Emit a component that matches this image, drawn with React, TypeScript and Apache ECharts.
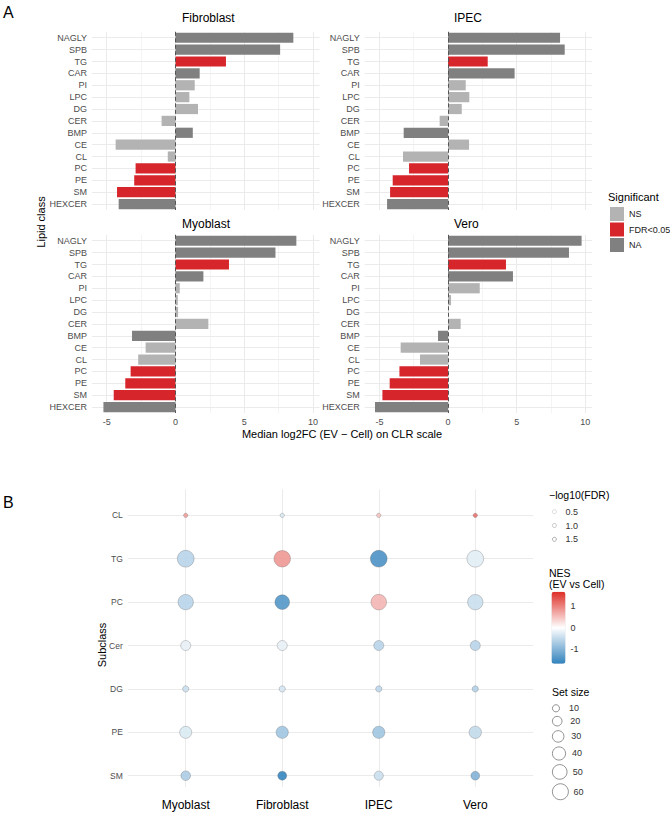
import { useEffect, useRef } from "react";
import * as echarts from "echarts";

// ---------- Panel A data ----------
const lipidClasses = ["NAGLY", "SPB", "TG", "CAR", "PI", "LPC", "DG", "CER", "BMP", "CE", "CL", "PC", "PE", "SM", "HEXCER"];
const classSignificance = ["NA", "NA", "FDR<0.05", "NA", "NS", "NS", "NS", "NS", "NA", "NS", "NS", "FDR<0.05", "FDR<0.05", "FDR<0.05", "NA"];
const fibroblastLog2FC = [8.57, 7.61, 3.67, 1.76, 1.4, 1.01, 1.64, -1.01, 1.26, -4.35, -0.56, -2.9, -3.0, -4.25, -4.13];
const ipecLog2FC = [8.16, 8.5, 2.89, 4.85, 1.29, 1.55, 1.0, -0.61, -3.23, 1.53, -3.28, -2.84, -4.03, -4.22, -4.44];
const myoblastLog2FC = [8.79, 7.27, 3.89, 2.03, 0.31, 0.17, 0.19, 2.39, -3.16, -2.17, -2.71, -3.26, -3.65, -4.49, -5.24];
const veroLog2FC = [9.73, 8.81, 4.22, 4.73, 2.31, 0.22, 0.02, 0.92, -0.73, -3.45, -2.04, -3.54, -4.25, -4.78, -5.32];
const facetNames = ["Fibroblast", "IPEC", "Myoblast", "Vero"];
const significanceLevels = ["NS", "FDR<0.05", "NA"];
const significanceColors = ["#b3b3b3", "#d7262b", "#808080"];
const log2fcMajorTicks = [-5, 0, 5, 10];
const log2fcMinorTicks = [-2.5, 2.5, 7.5];

// ---------- Panel B data ----------
const cellTypes = ["Myoblast", "Fibroblast", "IPEC", "Vero"];
const subclasses = ["CL", "TG", "PC", "Cer", "DG", "PE", "SM"];
const nesCL = [0.8, -0.3, 0.5, 1.15];
const nesTG = [-0.6, 0.85, -1.5, -0.25];
const nesPC = [-0.6, -1.45, 0.6, -0.45];
const nesCer = [-0.2, -0.2, -0.6, -0.6];
const nesDG = [-0.45, -0.35, -0.55, -0.65];
const nesPE = [-0.3, -0.8, -0.8, -0.5];
const nesSM = [-0.7, -1.69, -0.45, -1.05];
const setSizeCL = [2, 2, 2, 2];
const setSizeTG = [66, 64, 66, 66];
const setSizePC = [55, 50, 57, 55];
const setSizeCer = [22, 22, 22, 22];
const setSizeDG = [7, 7, 7, 7];
const setSizePE = [33, 34, 34, 35];
const setSizeSM = [20, 17, 18, 16];
const fdrBreaks = ["0.5", "1.0", "1.5"];
const setSizeBreaks = [10, 20, 30, 40, 50, 60];
const nesBreaks = [-1, 0, 1];
const nesLimit = 1.69;

const FONT = "'Liberation Sans', Arial, Helvetica, sans-serif";

const sizeToDiameter = (s: number) => Math.sqrt(10 + 4.1 * s);

function buildOption() {
  const facetValues = [fibroblastLog2FC, ipecLog2FC, myoblastLog2FC, veroLog2FC];
  const facetGrids = [
    { left: 92, top: 31.8, width: 227.6, height: 178.2 },
    { left: 364.7, top: 31.8, width: 227.2, height: 178.2 },
    { left: 92, top: 234.8, width: 227.6, height: 178.2 },
    { left: 364.7, top: 234.8, width: 227.2, height: 178.2 },
  ];
  const grids: any[] = facetGrids.map((g) => ({ ...g }));
  grids.push({ left: 127.8, top: 489.3, width: 405.4, height: 297.7 }); // 4: bubble
  grids.push({ left: 551.5, top: 591.7, width: 14, height: 72 }); // 5: colorbar axis

  const xAxes: any[] = [];
  const yAxes: any[] = [];
  facetNames.forEach((_, f) => {
    xAxes.push({
      type: "value",
      gridIndex: f,
      min: -6.07,
      max: 10.48,
      minInterval: 5,
      maxInterval: 5,
      splitLine: { show: false },
      axisLine: { show: false },
      axisTick: { show: false },
      axisLabel: {
        show: f >= 2,
        fontSize: 9,
        color: "#4d4d4d",
        margin: 4,
        fontFamily: FONT,
        formatter: (v: number) => {
          const r = Math.round(v);
          return Math.abs(v - r) < 1e-6 && log2fcMajorTicks.includes(r) ? String(r) : "";
        },
      },
    });
    yAxes.push({
      type: "category",
      gridIndex: f,
      data: lipidClasses,
      inverse: true,
      axisLine: { show: false },
      axisTick: { show: false },
      splitLine: { show: false },
      axisLabel: { fontSize: 9, color: "#4d4d4d", margin: 5, fontFamily: FONT },
    });
  });
  // bubble axes
  xAxes.push({
    type: "value",
    gridIndex: 4,
    min: -0.6,
    max: 3.6,
    minInterval: 1,
    maxInterval: 1,
    splitLine: { show: false },
    axisLine: { show: false },
    axisTick: { show: false },
    axisLabel: {
      fontSize: 12,
      color: "#000",
      margin: 12,
      fontFamily: FONT,
      formatter: (v: number) => {
        const i = Math.round(v);
        return Math.abs(v - i) < 1e-6 && i >= 0 && i < cellTypes.length ? cellTypes[i] : "";
      },
    },
  });
  yAxes.push({
    type: "value",
    gridIndex: 4,
    min: -0.6,
    max: 6.26,
    inverse: true,
    minInterval: 1,
    maxInterval: 1,
    splitLine: { show: false },
    axisLine: { show: false },
    axisTick: { show: false },
    axisLabel: {
      fontSize: 8.5,
      color: "#4d4d4d",
      margin: 5,
      fontFamily: FONT,
      formatter: (v: number) => {
        const i = Math.round(v);
        return Math.abs(v - i) < 1e-6 && i >= 0 && i < subclasses.length ? subclasses[i] : "";
      },
    },
  });
  // colorbar axes
  xAxes.push({ type: "value", gridIndex: 5, min: 0, max: 1, show: false });
  yAxes.push({
    type: "value",
    gridIndex: 5,
    min: -nesLimit,
    max: nesLimit,
    position: "right",
    minInterval: 1,
    maxInterval: 1,
    splitLine: { show: false },
    axisLine: { show: false },
    axisTick: { show: false },
    axisLabel: {
      fontSize: 9,
      color: "#333",
      margin: 5,
      fontFamily: FONT,
      formatter: (v: number) => {
        const r = Math.round(v);
        return Math.abs(v - r) < 1e-6 && nesBreaks.includes(r) ? String(r) : "";
      },
    },
  });

  const series: any[] = [];
  facetNames.forEach((_, f) => {
    // grid lines
    series.push({
      type: "line",
      name: "_grid" + f,
      xAxisIndex: f,
      yAxisIndex: f,
      data: [],
      silent: true,
      markLine: {
        silent: true,
        symbol: "none",
        z: 1,
        animation: false,
        label: { show: false },
        emphasis: { disabled: true },
        lineStyle: { color: "#ebebeb", width: 1, type: "solid" },
        data: [
          ...log2fcMajorTicks.map((t) => ({ xAxis: t })),
          ...log2fcMinorTicks.map((t) => ({ xAxis: t, lineStyle: { color: "#f4f4f4", width: 1, type: "solid" } })),
          ...lipidClasses.map((c) => ({ yAxis: c })),
        ],
      },
    });
    significanceLevels.forEach((lvl, k) => {
      series.push({
        type: "bar",
        name: lvl,
        xAxisIndex: f,
        yAxisIndex: f,
        barWidth: "86%",
        barGap: "-100%",
        z: 2,
        itemStyle: { color: significanceColors[k] },
        data: facetValues[f].map((v, i) => (classSignificance[i] === lvl ? v : "-")),
      });
    });
    // zero line
    series.push({
      type: "line",
      name: "_zero" + f,
      xAxisIndex: f,
      yAxisIndex: f,
      data: [],
      silent: true,
      markLine: {
        silent: true,
        symbol: "none",
        z: 6,
        animation: false,
        label: { show: false },
        emphasis: { disabled: true },
        lineStyle: { color: "#555555", width: 1, type: [4, 2.5] },
        data: [{ xAxis: 0 }],
      },
    });
  });

  // bubble grid lines
  series.push({
    type: "scatter",
    name: "_gridB",
    xAxisIndex: 4,
    yAxisIndex: 4,
    data: [],
    silent: true,
    markLine: {
      silent: true,
      symbol: "none",
      z: 1,
      animation: false,
      label: { show: false },
      emphasis: { disabled: true },
      lineStyle: { color: "#ebebeb", width: 1, type: "solid" },
      data: [...cellTypes.map((_, i) => ({ xAxis: i })), ...subclasses.map((_, j) => ({ yAxis: j }))],
    },
  });

  const nesRows = [nesCL, nesTG, nesPC, nesCer, nesDG, nesPE, nesSM];
  const sizeRows = [setSizeCL, setSizeTG, setSizePC, setSizeCer, setSizeDG, setSizePE, setSizeSM];
  const bubbleData: any[] = [];
  subclasses.forEach((sc, j) => {
    cellTypes.forEach((ct, i) => {
      bubbleData.push([i, j, nesRows[j][i], sizeRows[j][i], sc + " / " + ct]);
    });
  });
  const bubbleIndex = series.length;
  series.push({
    type: "scatter",
    name: "NES",
    xAxisIndex: 4,
    yAxisIndex: 4,
    z: 3,
    data: bubbleData,
    encode: { x: 0, y: 1 },
    symbolSize: (val: number[]) => sizeToDiameter(val[3]),
    itemStyle: { opacity: 0.88, borderColor: "rgba(90,90,90,0.55)", borderWidth: 0.6 },
  });

  // dummy series for legends
  fdrBreaks.forEach((b) => {
    series.push({ type: "scatter", name: b, xAxisIndex: 4, yAxisIndex: 4, data: [] });
  });
  setSizeBreaks.forEach((b) => {
    series.push({ type: "scatter", name: String(b), xAxisIndex: 4, yAxisIndex: 4, data: [] });
  });

  const legends: any[] = [];
  legends.push({
    left: 610,
    top: 207,
    padding: 0,
    orient: "vertical",
    itemWidth: 14,
    itemHeight: 14,
    itemGap: 1.5,
    icon: "rect",
    selectedMode: false,
    textStyle: { fontSize: 9, color: "#1a1a1a", fontFamily: FONT, overflow: "none" },
    data: significanceLevels,
  });
  const fdrStroke = ["#c4c4c4", "#a0a0a0", "#7c7c7c"];
  legends.push({
    left: 552,
    top: 505.7,
    padding: 0,
    orient: "vertical",
    itemWidth: 12,
    itemHeight: 4,
    itemGap: 1.8,
    selectedMode: false,
    textStyle: { fontSize: 9, lineHeight: 12, color: "#333", fontFamily: FONT },
    data: fdrBreaks.map((b, k) => ({
      name: b,
      icon: "circle",
      itemStyle: { color: "rgba(0,0,0,0)", borderColor: fdrStroke[k], borderWidth: 0.8 },
    })),
  });
  let cy = 708.3;
  setSizeBreaks.forEach((b, k) => {
    const d = sizeToDiameter(b);
    if (k > 0) cy += sizeToDiameter(setSizeBreaks[k - 1]) / 2 + d / 2 + 4.5;
    legends.push({
      left: 552,
      top: cy - Math.max(d, 12) / 2,
      padding: 0,
      orient: "vertical",
      itemWidth: 16,
      itemHeight: d,
      selectedMode: false,
      textStyle: { fontSize: 9, lineHeight: 12, color: "#333", fontFamily: FONT },
      data: [
        {
          name: String(b),
          icon: "circle",
          itemStyle: { color: "rgba(0,0,0,0)", borderColor: "#555", borderWidth: 0.8 },
        },
      ],
    });
  });

  const txt = (x: number, y: number, text: string, fontSize: number, extra: any = {}, styleExtra: any = {}) => ({
    type: "text",
    x,
    y,
    silent: true,
    ...extra,
    style: {
      text,
      fontSize,
      fontFamily: FONT,
      fill: "#000",
      align: "left",
      verticalAlign: "middle",
      ...styleExtra,
    },
  });

  const graphic: any[] = [
    txt(3, 12, "A", 16),
    txt(3, 502, "B", 16),
    txt(182, 18, facetNames[0], 12),
    txt(454, 18, facetNames[1], 12),
    txt(182, 224, facetNames[2], 12),
    txt(454, 224, facetNames[3], 12),
    txt(342, 433.5, "Median log2FC (EV − Cell) on CLR scale", 11, {}, { align: "center" }),
    txt(41, 222, "Lipid class", 11, { rotation: Math.PI / 2 }, { align: "center" }),
    txt(608, 197, "Significant", 11),
    txt(102, 645, "Subclass", 11, { rotation: Math.PI / 2 }, { align: "center" }),
    txt(549, 495, "−log10(FDR)", 10.5),
    txt(549, 578.5, "NES\n(EV vs Cell)", 10.5, {}, { lineHeight: 11.6 }),
    txt(552, 691.7, "Set size", 10.5),
  ];

  return {
    animation: false,
    textStyle: { fontFamily: FONT },
    grid: grids,
    xAxis: xAxes,
    yAxis: yAxes,
    series,
    legend: legends,
    visualMap: {
      type: "continuous",
      seriesIndex: bubbleIndex,
      dimension: 2,
      min: -nesLimit,
      max: nesLimit,
      calculable: false,
      hoverLink: false,
      left: 551.5,
      top: 591.7,
      itemWidth: 14,
      itemHeight: 72,
      padding: 0,
      text: null,
      inRange: { color: ["#3182bd", "#ffffff", "#de2d26"] },
    },
    graphic,
  };
}

export default function App() {
  const ref = useRef<HTMLDivElement>(null);
  useEffect(() => {
    if (!ref.current) return;
    const chart = echarts.init(ref.current, undefined, { renderer: "svg" });
    chart.setOption(buildOption() as any);
    return () => chart.dispose();
  }, []);
  return (
    <div
      ref={ref}
      style={{ position: "absolute", left: 0, top: 0, width: 670, height: 814, background: "#fff" }}
    />
  );
}
